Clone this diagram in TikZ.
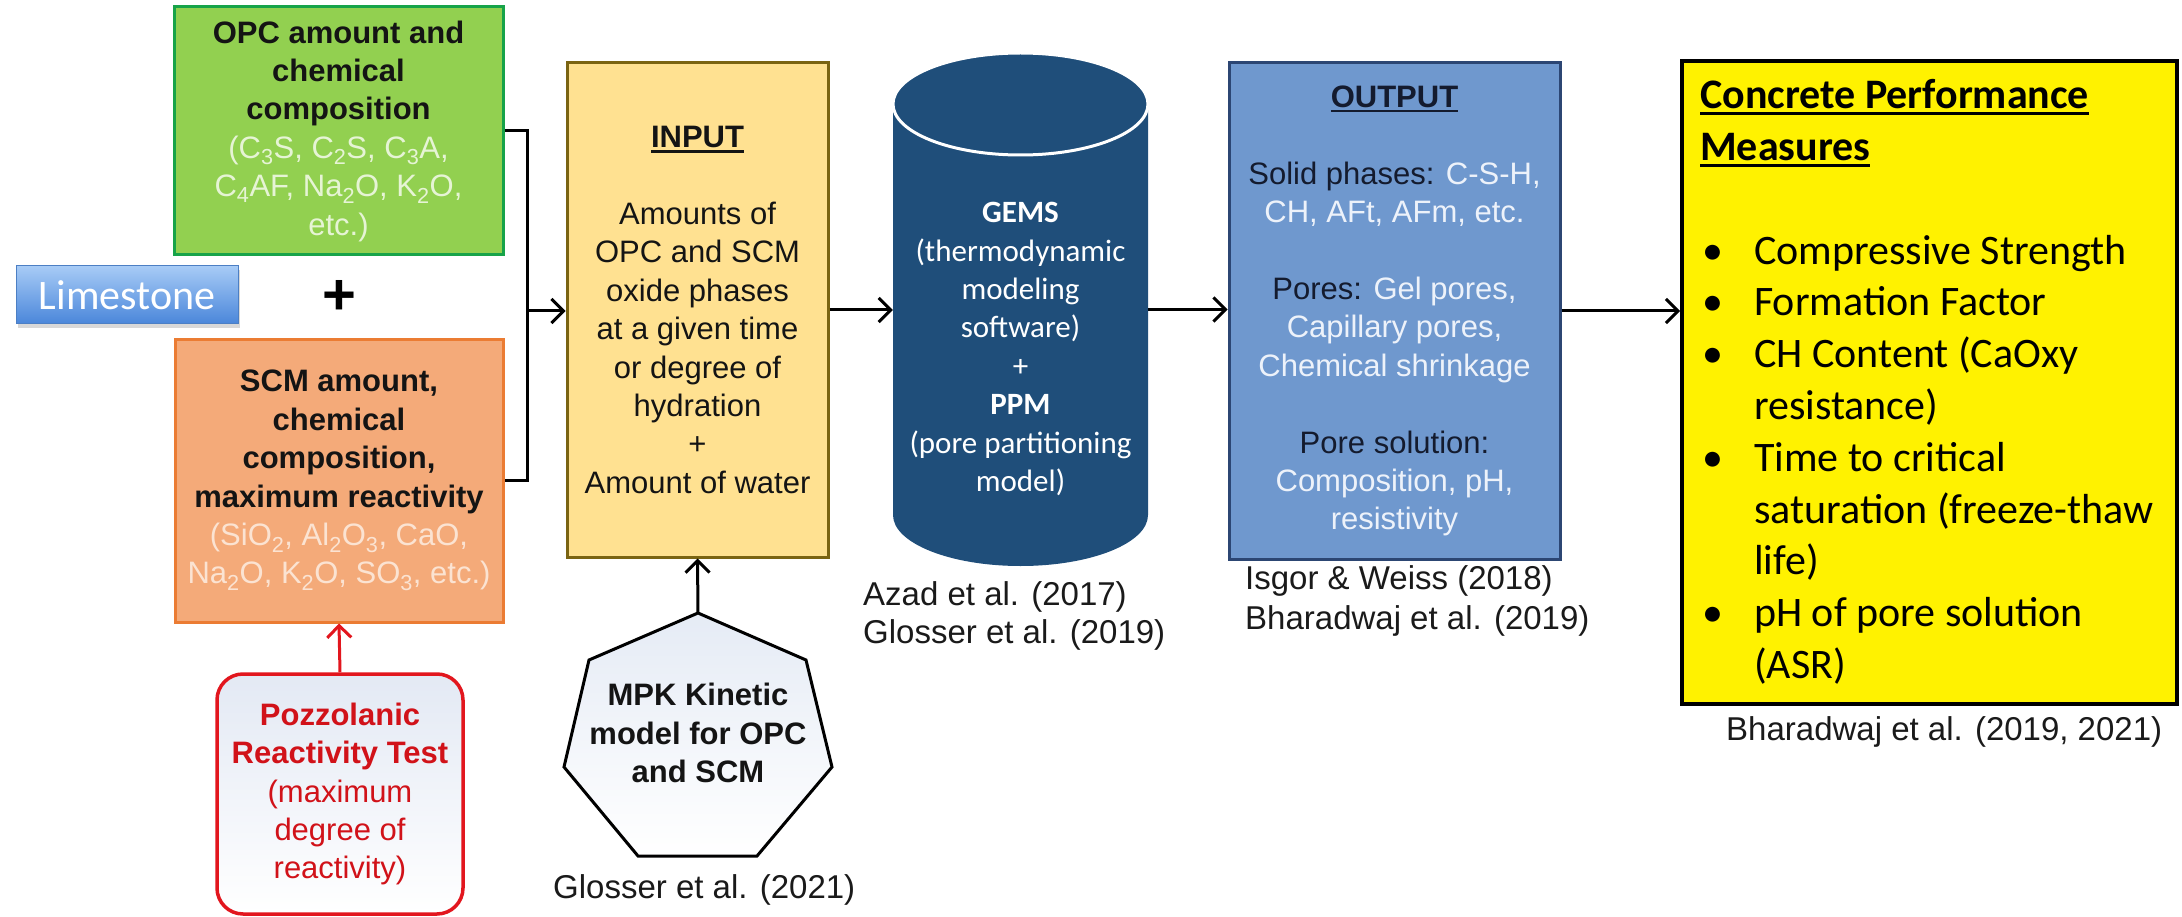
\documentclass[tikz,border=0pt]{standalone}
\usepackage{fontspec}
\setmainfont{Liberation Sans}
\newfontfamily\calfont{Carlito}
\usetikzlibrary{arrows.meta,shadows}
\definecolor{gfill}{HTML}{92D050}
\definecolor{gdraw}{HTML}{17A349}
\definecolor{gtext}{HTML}{E6F4D5}
\definecolor{ofill}{HTML}{F4AA79}
\definecolor{odraw}{HTML}{EB7C33}
\definecolor{otext}{HTML}{FBE3D2}
\definecolor{ifill}{HTML}{FFE191}
\definecolor{idraw}{HTML}{7A6412}
\definecolor{cyl}{HTML}{1F4E7A}
\definecolor{ofl}{HTML}{6F98CE}
\definecolor{odr}{HTML}{2C4673}
\definecolor{olab}{HTML}{141B2E}
\definecolor{oval}{HTML}{EDF2FA}
\definecolor{pred}{HTML}{E2161E}
\definecolor{ptext}{HTML}{D11219}
\definecolor{pzTop}{HTML}{E3E9F4}
\definecolor{lsTop}{HTML}{A7CBF6}
\definecolor{lsBot}{HTML}{4A86DA}
\definecolor{lsDraw}{HTML}{4C7FC4}
\definecolor{hpTop}{HTML}{E5EBF5}
\definecolor{citec}{HTML}{1A1A1A}
\newsavebox\ulbox
\newcommand\myul[1]{\sbox\ulbox{#1}\rlap{\rule[-5pt]{\wd\ulbox}{2.6pt}}\usebox\ulbox}
\newcommand\myulb[1]{\sbox\ulbox{#1}\rlap{\rule[-6pt]{\wd\ulbox}{3pt}}\usebox\ulbox}
\newcommand\bul{\makebox[54pt][l]{\hspace{2pt}\textbullet}}
\begin{document}
\begin{tikzpicture}[x=1pt,y=-1pt,
  conn/.style={line width=3pt, draw=black},
  arr/.style={conn, -{Straight Barb[length=12pt,width=24pt]}},
  box/.style={draw, line width=3pt, inner sep=0pt, align=center},
  txtA/.style={font=\fontsize{31}{38.4}\selectfont},
  cite/.style={font=\fontsize{33}{38}\selectfont, text=citec, anchor=west, inner sep=0pt},
]
\useasboundingbox (0,0) rectangle (2182,917);
\fill[white] (0,0) rectangle (2182,917);

% left column
\node[box, fill=gfill, draw=gdraw, minimum width=329pt, minimum height=248pt, txtA, text=black!92] (green) at (338.5,131)
 {\textbf{OPC amount and}\\\textbf{chemical}\\\textbf{composition}\\
  \textcolor{gtext}{(C\textsubscript{3}S, C\textsubscript{2}S, C\textsubscript{3}A,}\\
  \textcolor{gtext}{C\textsubscript{4}AF, Na\textsubscript{2}O, K\textsubscript{2}O,}\\
  \textcolor{gtext}{etc.)}};

\node[draw=lsDraw, line width=1pt, top color=lsTop, bottom color=lsBot, minimum width=222pt, minimum height=58pt, inner sep=0pt,
  font=\calfont\fontsize{42}{48}\selectfont, text=white,
  drop shadow={opacity=0.3, shadow xshift=2pt, shadow yshift=-4pt}] (lime) at (127,295) {Limestone};

\node[font=\bfseries\fontsize{58}{60}\selectfont, inner sep=0pt] (plus) at (339,297) {+};

\node[box, fill=ofill, draw=odraw, minimum width=328pt, minimum height=283pt, txtA, text=black!92] (orange) at (339,480.5)
 {\textbf{SCM amount,}\\\textbf{chemical}\\\textbf{composition,}\\\textbf{maximum reactivity}\\
  \textcolor{otext}{(SiO\textsubscript{2}, Al\textsubscript{2}O\textsubscript{3}, CaO,}\\
  \textcolor{otext}{Na\textsubscript{2}O, K\textsubscript{2}O, SO\textsubscript{3}, etc.)}};

\node[draw=pred, line width=3.5pt, rounded corners=26pt, top color=pzTop, bottom color=white, minimum width=246pt, minimum height=240pt,
  inner sep=0pt, align=center, txtA, text=ptext] (pozz) at (340,794)
 {\textbf{Pozzolanic}\\\textbf{Reactivity Test}\\(maximum\\degree of\\reactivity)};

% input
\node[box, fill=ifill, draw=idraw, minimum width=261pt, minimum height=494pt, txtA, text=black!92] (input) at (697.5,310)
 {\myul{\textbf{INPUT}}\\\mbox{}\\Amounts of\\OPC and SCM\\oxide phases\\at a given time\\or degree of\\hydration\\+\\Amount of water};

% heptagon
\path[draw=black, line width=3pt, top color=hpTop, bottom color=white, line join=miter]
  (698,613) -- (806,660) -- (832,767) -- (757,856) -- (638,856) -- (564,767) -- (589,660) -- cycle;
\coordinate (heptop) at (698,613);
\node[txtA, align=center, inner sep=0pt, text=black!92] (hept) at (698,733) {\textbf{MPK Kinetic}\\\textbf{model for OPC}\\\textbf{and SCM}};

% cylinder
\fill[cyl] (893,104) -- (893,515) arc[start angle=180,end angle=0,x radius=127.5,y radius=51]
  -- (1148,104) arc[start angle=0,end angle=-180,x radius=127.5,y radius=51] -- cycle;
\draw[white, line width=3pt, fill=cyl] (1020.5,104) ellipse [x radius=127.5, y radius=51];
\node[minimum width=255pt, minimum height=513pt, inner sep=0pt] (gems) at (1020.5,309.5) {};
\node[font=\calfont\fontsize{31}{38.4}\selectfont, text=white, align=center, inner sep=0pt] (gemstext) at (1020.5,349)
 {\textbf{GEMS}\\(thermodynamic\\modeling\\software)\\+\\\textbf{PPM}\\(pore partitioning\\model)};

% output
\node[box, fill=ofl, draw=odr, minimum width=331pt, minimum height=496pt, txtA, text=oval] (output) at (1394.5,311)
 {\textcolor{olab}{\myul{\textbf{OUTPUT}}}\\\mbox{}\\
  \textcolor{olab}{Solid phases:} C-S-H,\\CH, AFt, AFm, etc.\\\mbox{}\\
  \textcolor{olab}{Pores:} Gel pores,\\Capillary pores,\\Chemical shrinkage\\\mbox{}\\
  \textcolor{olab}{Pore solution:}\\Composition, pH,\\resistivity};

% performance
\node[draw=black, line width=4pt, fill=yellow, minimum width=495pt, minimum height=643pt, inner sep=0pt] (perf) at (1929.5,382.5) {};
\node[anchor=west, align=left, inner sep=0pt, font=\calfont\fontsize{42}{51.8}\selectfont] (perftext) at (1700,382)
 {\myulb{\textbf{Concrete Performance}}\\\myulb{\textbf{Measures}}\\\mbox{}\\
  \bul Compressive Strength\\\bul Formation Factor\\\bul CH Content (CaOxy\\\hspace*{54pt}resistance)\\
  \bul Time to critical\\\hspace*{54pt}saturation (freeze-thaw\\\hspace*{54pt}life)\\
  \bul pH of pore solution\\\hspace*{54pt}(ASR)};

% citations
\node[cite] (azad) at (863,597) {Azad et al. (2017)};
\node[cite] (glo19) at (863,635) {Glosser et al. (2019)};
\node[cite] (isgor) at (1245,581) {Isgor \& Weiss (2018)};
\node[cite] (bhar19) at (1245,621) {Bharadwaj et al. (2019)};
\node[cite] (glo21) at (553,890) {Glosser et al. (2021)};
\node[cite] (bhar21) at (1726,732) {Bharadwaj et al. (2019, 2021)};

% connectors
\coordinate (junc) at (527,311);
\draw[conn] (green.east) -- (green.east -| junc) -- (orange.east -| junc) -- (orange.east);
\draw[arr] (junc) -- (input.west |- junc);
\draw[arr] (input.east) -- (input.east -| gems.west);
\draw[arr] (gems.east) -- (gems.east -| output.west);
\draw[arr] (output.east) -- (output.east -| perf.west);
\draw[arr] (heptop) -- (input.south);
\draw[arr, draw=pred] (pozz.north) -- (orange.south);
\end{tikzpicture}
\end{document}
